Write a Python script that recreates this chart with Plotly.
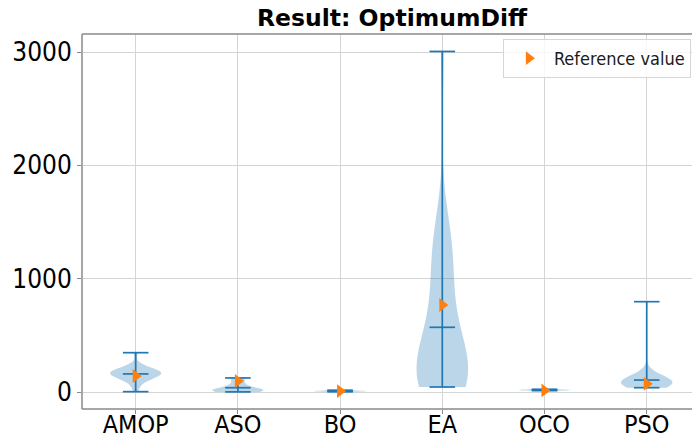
import numpy as np
import plotly.graph_objects as go

# Algorithms compared and their per-run OptimumDiff results
algorithms = ["AMOP", "ASO", "BO", "EA", "OCO", "PSO"]

amop_runs = [3, 50, 85, 100, 112, 122, 130, 140, 145, 150, 154, 158, 162, 166,
             170, 174, 179, 184, 190, 197, 200, 208, 220, 240, 347]
aso_runs = [1, 2, 3, 4, 5, 7, 9, 11, 13, 16, 19, 22, 28, 34, 40, 48, 58, 68,
            92, 110, 118, 124]
bo_runs = [2, 3, 4, 5, 6, 7, 8, 9, 10, 11, 12, 14, 16]
ea_runs = [44, 48, 53, 59, 66, 74, 83, 94, 106, 120, 136, 154, 175, 200, 230,
           265, 305, 350, 400, 460, 530, 610, 720, 830, 930, 1030, 1120, 1180,
           1260, 1320, 1400, 1480, 3005]
oco_runs = [12, 13, 14, 15, 16, 17, 18, 19, 20, 21, 22, 24]
pso_runs = [38, 41, 44, 47, 50, 53, 56, 59, 62, 65, 66, 68, 70, 72, 74, 76,
            78, 80, 82, 84, 86, 88, 90, 92, 94, 96, 98, 100, 102, 104, 107,
            111, 116, 121, 127, 135, 145, 160, 180, 797]

reference_values = [141, 97, 8, 768, 14, 72]
y_tick_values = [0, 1000, 2000, 3000]

runs = [amop_runs, aso_runs, bo_runs, ea_runs, oco_runs, pso_runs]
positions = list(range(1, len(algorithms) + 1))

BLUE = "#1f77b4"
ORANGE = "#ff7f0e"
SPINE = "#8a8a8a"
TICK_FONT = "DejaVu Sans Condensed, DejaVu Sans, sans-serif"
VIOLIN_WIDTH = 0.5

fig = go.Figure()

# Violin bodies: Gaussian KDE with Scott's bandwidth, cut at the data extremes
for pos, vals in zip(positions, runs):
    arr = np.asarray(vals, dtype=float)
    bw = arr.std(ddof=1) * len(arr) ** (-1.0 / 5.0)
    fig.add_trace(go.Violin(
        x=[pos] * len(arr), y=arr, orientation="v",
        width=VIOLIN_WIDTH, spanmode="hard", bandwidth=bw, scalemode="width",
        points=False, box_visible=False, meanline_visible=False,
        fillcolor="rgba(31,119,180,0.3)", line=dict(width=0),
        showlegend=False, hoverinfo="skip",
    ))

# Extrema bar plus min / max / mean caps
cap = VIOLIN_WIDTH / 4
seg_x, seg_y = [], []
for pos, vals in zip(positions, runs):
    arr = np.asarray(vals, dtype=float)
    lo, hi, mean = arr.min(), arr.max(), arr.mean()
    seg_x += [pos, pos, None]
    seg_y += [lo, hi, None]
    for v in (lo, hi, mean):
        seg_x += [pos - cap, pos + cap, None]
        seg_y += [v, v, None]
fig.add_trace(go.Scatter(
    x=seg_x, y=seg_y, mode="lines",
    line=dict(color=BLUE, width=1.7),
    showlegend=False, hoverinfo="skip",
))

# Reference values
fig.add_trace(go.Scatter(
    x=positions, y=reference_values, mode="markers", name="Reference value",
    marker=dict(symbol="triangle-right", size=12, color=ORANGE, line=dict(width=0)),
))

# Left, bottom and top spines of the axes box
spine = dict(color=SPINE, width=1.5)
fig.add_shape(type="line", xref="paper", yref="paper", x0=0, x1=1, y0=1, y1=1,
              line=spine, layer="above")
fig.add_shape(type="line", xref="paper", yref="paper", x0=0, x1=1, y0=0, y1=0,
              line=spine, layer="above")
fig.add_shape(type="line", xref="paper", yref="paper", x0=0, x1=0, y0=0, y1=1,
              line=spine, layer="above")

fig.update_layout(
    width=692, height=442,
    margin=dict(l=82, r=0, t=34, b=33, autoexpand=False),
    paper_bgcolor="white", plot_bgcolor="white",
    violinmode="overlay",
    title=dict(
        text="<b>Result: OptimumDiff</b>",
        x=392 / 692, xref="container", xanchor="center",
        y=1 - 18 / 442, yref="container", yanchor="middle",
        font=dict(family="DejaVu Sans, sans-serif", size=23.5, color="black"),
    ),
    legend=dict(
        x=0.69, xanchor="left", y=0.9867, yanchor="top",
        itemwidth=40,
        bgcolor="rgba(255,255,255,0.8)", bordercolor="#d6d6d6", borderwidth=1,
        font=dict(family=TICK_FONT, size=18, color="#1a1a1a"),
    ),
)

fig.update_xaxes(
    range=[0.475, 6.443], automargin=False,
    tickmode="array", tickvals=positions, ticktext=algorithms,
    showgrid=True, gridcolor="#d4d4d4", gridwidth=1.2,
    showline=False,
    ticks="outside", ticklen=4, tickcolor=SPINE, ticklabelstandoff=-11,
    tickfont=dict(family=TICK_FONT, size=25, color="black"),
    zeroline=False,
)
fig.update_yaxes(
    range=[-150, 3159], automargin=False,
    tickmode="array", tickvals=y_tick_values,
    ticktext=[str(v) for v in y_tick_values],
    showgrid=True, gridcolor="#d4d4d4", gridwidth=1.2,
    showline=False,
    ticks="outside", ticklen=4, tickcolor=SPINE,
    tickfont=dict(family=TICK_FONT, size=26, color="black"),
    zeroline=False,
)

fig.write_html("out.html")
